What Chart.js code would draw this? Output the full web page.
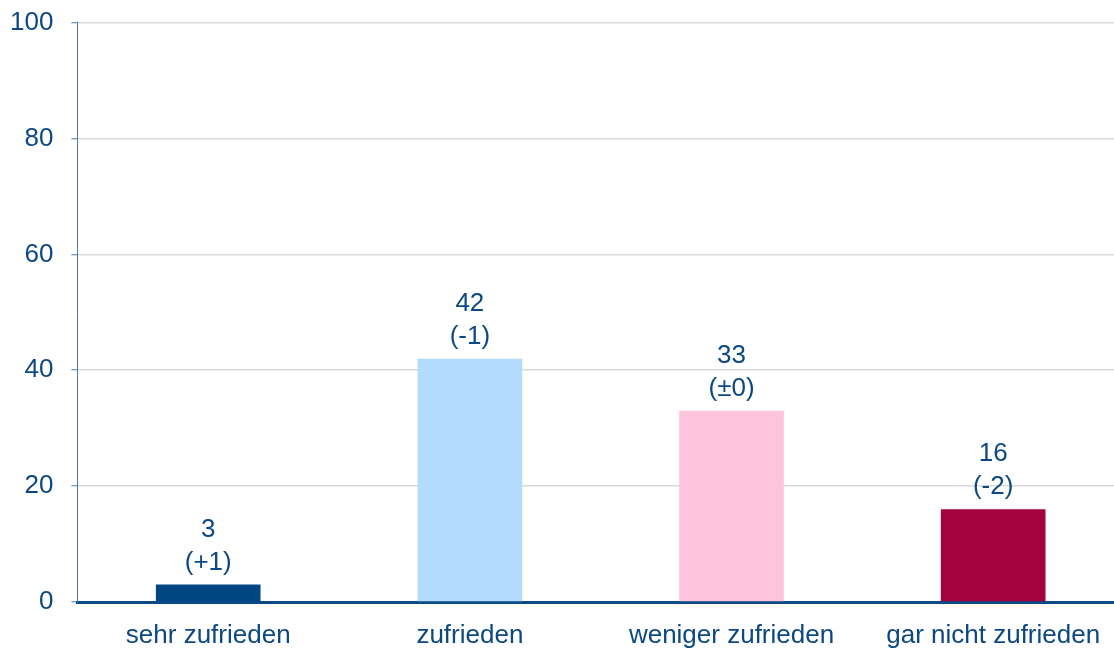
<!DOCTYPE html>
<html>
<head>
<meta charset="utf-8">
<script src="https://cdn.jsdelivr.net/npm/chart.js@4"></script>
<style>
html,body{margin:0;padding:0;background:#fff;overflow:hidden;}
#wrap{position:relative;width:1114px;height:648px;overflow:hidden;}
#c{position:absolute;left:-19px;top:-11px;}
</style>
</head>
<body>
<div id="wrap"><canvas id="c" width="1143" height="678"></canvas></div>
<script>
const categories = ["sehr zufrieden", "zufrieden", "weniger zufrieden", "gar nicht zufrieden"];
const values = [3, 42, 33, 16];
const changes = ["(+1)", "(-1)", "(\u00b10)", "(-2)"];
const barColors = ["#004683", "#b3dbfd", "#fdc4dc", "#a50040"];
const yTicks = [0, 20, 40, 60, 80, 100];

const textColor = "#0c4883";
const fontFamily = "'Liberation Sans', Arial, sans-serif";

const labelPlugin = {
  id: "barLabels",
  afterDatasetsDraw(chart) {
    const ctx = chart.ctx;
    const meta = chart.getDatasetMeta(0);
    ctx.save();
    ctx.fillStyle = textColor;
    ctx.font = "26px " + fontFamily;
    ctx.textAlign = "center";
    ctx.textBaseline = "middle";
    meta.data.forEach((bar, i) => {
      ctx.fillText(String(values[i]), bar.x, bar.y - 55);
      ctx.fillText(changes[i], bar.x, bar.y - 22);
    });
    ctx.restore();
  }
};

new Chart(document.getElementById("c"), {
  type: "bar",
  data: {
    labels: categories,
    datasets: [{
      data: values,
      backgroundColor: barColors,
      borderWidth: 0,
      barPercentage: 0.4,
      categoryPercentage: 1.0
    }]
  },
  options: {
    responsive: false,
    animation: false,
    layout: { padding: { top: 9, left: 11, right: 0, bottom: 0 } },
    plugins: { legend: { display: false }, tooltip: { enabled: false } },
    scales: {
      x: {
        afterFit(scale) { scale.height = 65; },
        grid: { display: false, drawTicks: false },
        border: { display: true, color: "#0a4a87", width: 3 },
        ticks: { color: textColor, font: { size: 26, family: fontFamily }, padding: 18, maxRotation: 0, autoSkip: false }
      },
      y: {
        min: 0, max: 100,
        afterBuildTicks(axis) { axis.ticks = yTicks.map(v => ({ value: v })); },
        grid: { color: "#d9d9d9", lineWidth: 1.5, tickLength: 6, tickColor: "#4a78ad", tickWidth: 1 },
        border: { display: true, color: "#4a78ad", width: 1 },
        ticks: { color: textColor, font: { size: 26, family: fontFamily }, padding: 18 }
      }
    }
  },
  plugins: [labelPlugin]
});
</script>
</body>
</html>
